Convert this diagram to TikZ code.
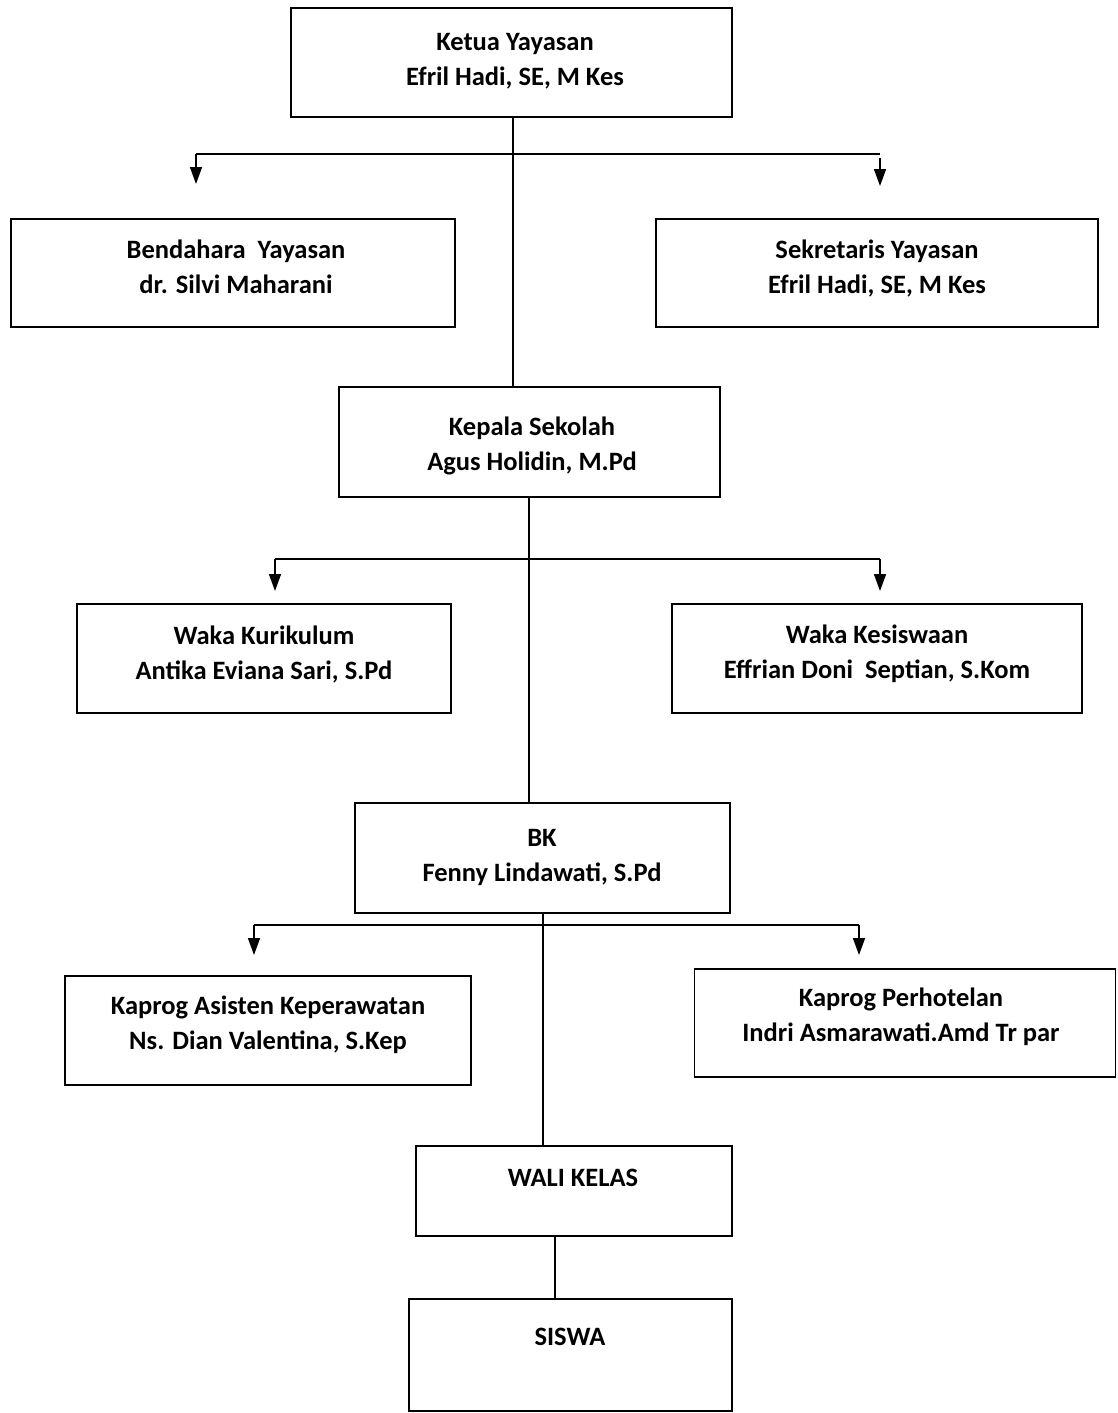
\documentclass[tikz,border=0pt]{standalone}
\usepackage{fontspec}
\setmainfont{Carlito}
\usetikzlibrary{arrows.meta}
\begin{document}
\begin{tikzpicture}[x=1pt,y=-1pt,
  box/.style={draw, line width=1.8pt, inner sep=0pt, outer sep=0pt},
  txt/.style={align=center, font=\fontsize{26.5}{35}\selectfont\bfseries, inner sep=0pt},
  conn/.style={line width=1.6pt},
  arr/.style={line width=1.6pt, -{Triangle[width=12pt,length=17pt]}}]
\useasboundingbox (0,0) rectangle (1117,1413);
% boxes
\node[box, minimum width=441pt, minimum height=109pt] (ketua) at (511.5,62.5) {};
\node[box, minimum width=444pt, minimum height=108pt] (bend) at (233,273) {};
\node[box, minimum width=442pt, minimum height=108pt] (sekr) at (877,273) {};
\node[box, minimum width=381pt, minimum height=110pt] (kepala) at (529.5,442) {};
\node[box, minimum width=374pt, minimum height=109pt] (wkur) at (264,658.5) {};
\node[box, minimum width=410pt, minimum height=109pt] (wkes) at (877,658.5) {};
\node[box, minimum width=375pt, minimum height=110pt] (bk) at (542.5,858) {};
\node[box, minimum width=406pt, minimum height=109pt] (kak) at (268,1030.5) {};
\node[box, minimum width=421pt, minimum height=108pt] (kph) at (905,1023) {};
\node[box, minimum width=316pt, minimum height=90pt] (wali) at (574,1191) {};
\node[box, minimum width=323pt, minimum height=112pt] (siswa) at (570.5,1355) {};
% texts
\node[txt] (ketuaT) at (515,61) {Ketua Yayasan\\Efril Hadi, SE, M Kes};
\node[txt] (bendT) at (236,267) {Bendahara \ Yayasan\\dr. Silvi Maharani};
\node[txt] (sekrT) at (877,268) {Sekretaris Yayasan\\Efril Hadi, SE, M Kes};
\node[txt] (kepalaT) at (532,446) {Kepala Sekolah\\Agus Holidin, M.Pd};
\node[txt] (wkurT) at (264,654) {Waka Kurikulum\\Antika Eviana Sari, S.Pd};
\node[txt] (wkesT) at (877,654) {Waka Kesiswaan\\Effrian Doni \ Septian, S.Kom};
\node[txt] (bkT) at (542,857) {BK\\Fenny Lindawati, S.Pd};
\node[txt] (kakT) at (268,1025) {Kaprog Asisten Keperawatan\\Ns. Dian Valentina, S.Kep};
\node[txt] (kphT) at (901,1017) {Kaprog Perhotelan\\Indri Asmarawati.Amd Tr par};
\node[txt] (waliT) at (573,1178) {WALI KELAS};
\node[txt] (siswaT) at (570,1337) {SISWA};
% spines
\coordinate (s1) at (513,0);
\coordinate (s2) at (529,0);
\coordinate (s3) at (543,0);
\coordinate (s4) at (555,0);
\draw[conn] (ketua.south -| s1) -- (kepala.north -| s1);
\draw[conn] (kepala.south -| s2) -- (bk.north -| s2);
\draw[conn] (bk.south -| s3) -- (wali.north -| s3);
\draw[conn] (wali.south -| s4) -- (siswa.north -| s4);
% level 1 branches
\coordinate (b1L) at (196,154); \coordinate (b1R) at (880,154);
\coordinate (b1Rs) at (880,158);
\coordinate (t1L) at (196,184); \coordinate (t1R) at (880,186);
\draw[conn] (b1L) -- (b1R);
\draw[arr] (b1L) -- (t1L);
\draw[arr] (b1Rs) -- (t1R);
% level 2 branches
\coordinate (b2L) at (275,559); \coordinate (b2R) at (880,559);
\coordinate (t2L) at (275,591); \coordinate (t2R) at (880,591);
\draw[conn] (b2L) -- (b2R);
\draw[arr] (b2L) -- (t2L);
\draw[arr] (b2R) -- (t2R);
% level 3 branches
\coordinate (b3L) at (254,925); \coordinate (b3R) at (859,925);
\coordinate (t3L) at (254,955); \coordinate (t3R) at (859,955);
\draw[conn] (b3L) -- (b3R);
\draw[arr] (b3L) -- (t3L);
\draw[arr] (b3R) -- (t3R);
\end{tikzpicture}
\end{document}
